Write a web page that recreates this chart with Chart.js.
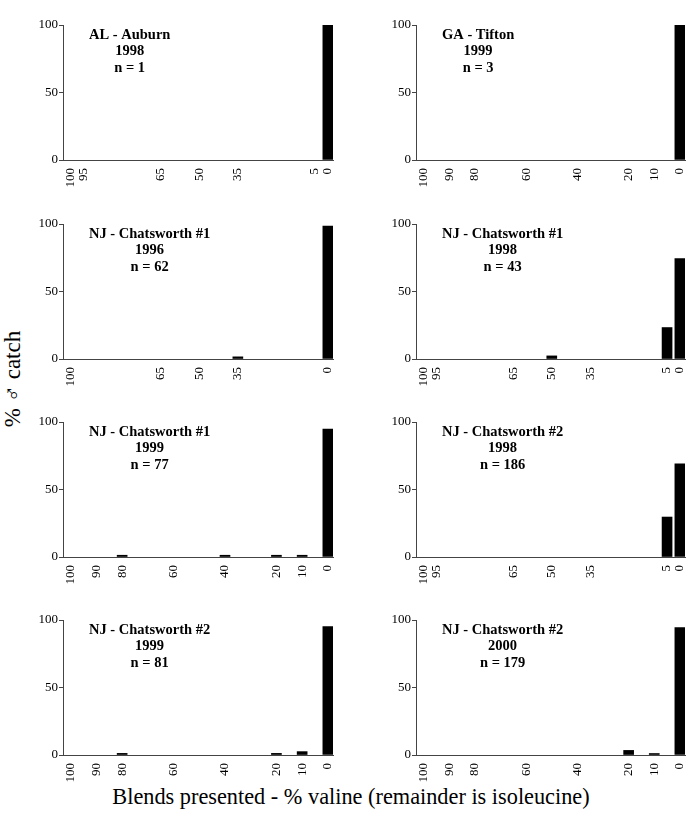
<!DOCTYPE html>
<html>
<head>
<meta charset="utf-8">
<script src="https://cdn.jsdelivr.net/npm/chart.js@4.4.1/dist/chart.umd.min.js"></script>
<style>
  body { margin: 0; background: #fff; }
  #page { position: relative; width: 687px; height: 814px; overflow: hidden; font-family: "Liberation Serif", "DejaVu Serif", serif; }
  .panel { position: absolute; }
  #ylab { position: absolute; left: 13px; top: 379px; transform: translate(-50%, -50%) rotate(-90deg); font-size: 23px; white-space: nowrap; }
  #xlab { position: absolute; left: 351px; top: 797px; transform: translate(-50%, -50%); font-size: 22.3px; white-space: nowrap; }
</style>
</head>
<body>
<div id="page">
  <div id="ylab">% ♂ catch</div>
  <div id="xlab">Blends presented - % valine (remainder is isoleucine)</div>
</div>
<script>
// panel labels
const sites = ['AL - Auburn', 'GA - Tifton', 'NJ - Chatsworth #1', 'NJ - Chatsworth #1',
               'NJ - Chatsworth #1', 'NJ - Chatsworth #2', 'NJ - Chatsworth #2', 'NJ - Chatsworth #2'];
const years = ['1998', '1999', '1996', '1998', '1999', '1998', '1999', '2000'];
const sampleSizes = [1, 3, 62, 43, 77, 186, 81, 179];

// blends presented (% valine) for each panel = x tick labels
const blends = [
  [100, 95, 65, 50, 35, 5, 0],
  [100, 90, 80, 60, 40, 20, 10, 0],
  [100, 65, 50, 35, 0],
  [100, 95, 65, 50, 35, 5, 0],
  [100, 90, 80, 60, 40, 20, 10, 0],
  [100, 95, 65, 50, 35, 5, 0],
  [100, 90, 80, 60, 40, 20, 10, 0],
  [100, 90, 80, 60, 40, 20, 10, 0]
];
// % male catch for each blend
const catchPct = [
  [0, 0, 0, 0, 0, 0, 100],
  [0, 0, 0, 0, 0, 0, 0, 100],
  [0, 0, 0, 1.6, 98.4],
  [0, 0, 0, 2.3, 0, 23.3, 74.4],
  [0, 0, 1.3, 0, 1.3, 1.3, 1.3, 94.8],
  [0, 0, 0, 0, 0, 29.6, 69.0],
  [0, 0, 1.2, 0, 0, 1.2, 2.5, 95.1],
  [0, 0, 0, 0, 0, 3.4, 1.1, 94.4]
];
const yTicks = [0, 50, 100];

Chart.defaults.font.family = '"Liberation Serif", "DejaVu Serif", serif';
Chart.defaults.color = '#000';

// site / year / n text block inside the plot
const panelText = {
  id: 'panelText',
  afterDraw(chart, args, opts) {
    const ctx = chart.ctx, a = chart.chartArea;
    ctx.save();
    ctx.font = 'bold 14.5px "Liberation Serif", serif';
    ctx.fillStyle = '#000';
    ctx.textAlign = 'center';
    ctx.textBaseline = 'middle';
    const cx = a.left + 26 + ctx.measureText(opts.lines[0]).width / 2;
    opts.lines.forEach((t, i) => ctx.fillText(t, cx, a.top + 10 + i * 16.5));
    ctx.restore();
  }
};

const page = document.getElementById('page');
const rowTops = [10, 209, 407, 605];

for (let i = 0; i < 8; ++i) {
  const col = i % 2, row = Math.floor(i / 2);
  const wrap = document.createElement('div');
  wrap.className = 'panel';
  const w = col == 0 ? 320 : 314;
  wrap.style.left = (col == 0 ? 20 : 373) + 'px';
  wrap.style.top = rowTops[row] + 'px';
  wrap.style.width = w + 'px';
  wrap.style.height = '190px';
  const cv = document.createElement('canvas');
  wrap.appendChild(cv);
  page.appendChild(wrap);

  const ticksX = blends[i];
  new Chart(cv, {
    type: 'bar',
    data: {
      datasets: [{
        data: ticksX.map((b, k) => ({ x: b, y: catchPct[i][k] })),
        // blends with no catch get no mark
        backgroundColor: (c) => (c.raw && c.raw.y > 0) ? '#000' : 'rgba(0,0,0,0)',
        barThickness: 10
      }]
    },
    options: {
      responsive: true,
      maintainAspectRatio: false,
      animation: false,
      layout: { padding: { top: 15, right: col == 0 ? 7 : 2, left: 0, bottom: 0 } },
      plugins: {
        legend: { display: false },
        tooltip: { enabled: false },
        panelText: { lines: [sites[i], years[i], 'n = ' + sampleSizes[i]] }
      },
      scales: {
        x: {
          type: 'linear',
          reverse: true,
          min: -2,
          max: 103,
          offset: false,
          afterBuildTicks: (s) => { s.ticks = ticksX.map(v => ({ value: v })); },
          afterFit: (s) => { s.height = 40; s.paddingLeft = 0; s.paddingRight = 0; },
          grid: { display: false },
          border: { color: '#444', width: 1 },
          ticks: { autoSkip: false, minRotation: 90, maxRotation: 90, padding: 0, font: { size: 13 } }
        },
        y: {
          min: 0,
          max: 100,
          afterBuildTicks: (s) => { s.ticks = yTicks.map(v => ({ value: v })); },
          afterFit: (s) => { s.width = 43; s.paddingTop = 0; s.paddingBottom = 0; },
          grid: { drawOnChartArea: false, drawTicks: true, tickLength: 4, color: '#444' },
          border: { color: '#444', width: 1 },
          ticks: { padding: 1, font: { size: 13 } }
        }
      }
    },
    plugins: [panelText]
  });
}
</script>
</body>
</html>
